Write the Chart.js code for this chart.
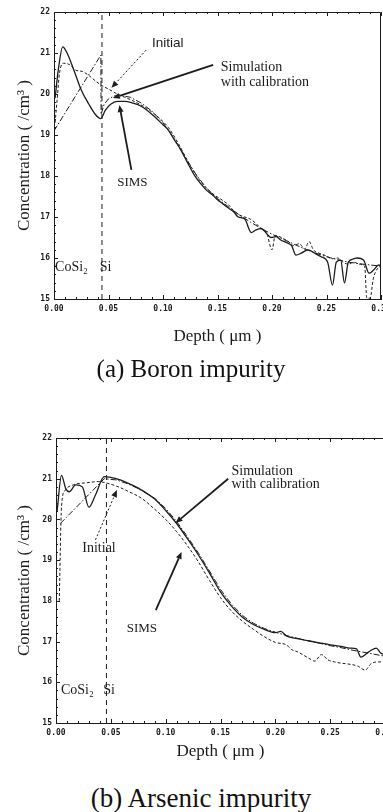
<!DOCTYPE html>
<html>
<head>
<meta charset="utf-8">
<script src="https://cdn.jsdelivr.net/npm/chart.js@4.4.1/dist/chart.umd.min.js"></script>
<style>
  html, body { margin: 0; padding: 0; background: #fff; width: 383px; height: 812px; overflow: hidden; position: relative; }
  canvas { position: absolute; left: 0; }
  .cap { position: absolute; font-family: "Liberation Serif", serif; color: #111; white-space: nowrap; transform: translate(-50%, -50%); }
</style>
</head>
<body>
<canvas id="boron" width="400" height="360" style="top:0;width:400px;height:360px"></canvas>
<canvas id="arsenic" width="400" height="372" style="top:400px;width:400px;height:372px"></canvas>
<div class="cap" style="left:191px;top:369px;font-size:25px">(a) Boron impurity</div>
<div class="cap" style="left:201px;top:798px;font-size:27px">(b) Arsenic impurity</div>
<script>
// axes
const depthTicks = [0, 0.05, 0.10, 0.15, 0.20, 0.25, 0.30];
const depthTickLabels = ['0.00', '0.05', '0.10', '0.15', '0.20', '0.25', '0.30'];
const concTicks = [15, 16, 17, 18, 19, 20, 21, 22];
const concTickLabels = ['15', '16', '17', '18', '19', '20', '21', '22'];

// CoSi2 / Si interface depth (um)
const ifaceA = 0.044;
const ifaceB = 0.046;

// (a) boron - SIMS
const depthA_sims = [0.001,0.004,0.008,0.012,0.018,0.025,0.032,0.038,0.043,0.047,0.052,0.058,0.065,0.072,0.080,0.090,0.100,0.105,0.110,0.115,0.120,0.125,0.130,0.135,0.140,0.145,0.150,0.155,0.160,0.165,0.169,0.175,0.181,0.185,0.190,0.195,0.199,0.204,0.208,0.213,0.218,0.222,0.227,0.233,0.239,0.245,0.251,0.2555,0.259,0.263,0.2665,0.270,0.275,0.278,0.284,0.289,0.293,0.298,0.300];
const concA_sims  = [19.9,20.6,21.15,21.0,20.6,20.1,19.75,19.5,19.4,19.6,19.75,19.82,19.82,19.78,19.7,19.5,19.25,19.12,18.9,18.7,18.45,18.2,17.97,17.8,17.65,17.55,17.42,17.32,17.22,17.12,17.0,16.95,16.62,16.68,16.72,16.6,16.5,16.52,16.44,16.38,16.3,16.07,16.12,16.2,16.12,16.03,15.9,15.34,15.9,15.95,15.39,15.9,15.98,16.0,15.95,15.63,15.7,15.83,15.8];
// (a) boron - initial
const depthA_init = [0.001,0.003,0.005,0.009,0.014,0.020,0.026,0.032,0.038,0.043,0.050,0.058,0.065,0.075,0.085,0.095,0.105,0.115,0.125,0.135,0.145,0.155,0.160,0.165,0.170,0.175,0.180,0.185,0.190,0.195,0.200,0.203,0.210,0.215,0.220,0.225,0.230,0.234,0.238,0.245,0.250,0.255,0.260,0.265,0.270,0.275,0.280,0.285,0.287,0.290,0.293,0.297,0.300];
const concA_init  = [19.3,19.9,20.5,20.75,20.72,20.58,20.55,20.45,20.32,20.22,20.12,20.0,19.92,19.8,19.65,19.45,19.18,18.75,18.25,17.85,17.58,17.4,17.3,17.15,17.05,17.0,16.95,16.85,16.72,16.62,16.2,16.55,16.48,16.4,16.3,16.35,16.22,16.4,16.2,16.1,16.05,15.98,16.0,15.9,15.85,15.9,15.85,15.8,15.02,15.02,15.5,15.75,15.8];
// (a) boron - simulation with calibration
const depthA_sim = [0.000,0.043,0.0432,0.046,0.050,0.055,0.060,0.070,0.080,0.090,0.100,0.110,0.120,0.130,0.140,0.150,0.160,0.170,0.180,0.190,0.200,0.210,0.220,0.230,0.240,0.250,0.260,0.270,0.280,0.290,0.300];
const concA_sim  = [19.1,20.95,19.5,19.75,19.88,19.95,19.97,19.92,19.78,19.58,19.3,18.92,18.48,18.05,17.7,17.45,17.25,17.05,16.88,16.72,16.58,16.46,16.34,16.22,16.12,16.03,15.96,15.9,15.86,15.83,15.8];

// (b) arsenic - SIMS
const depthB_sims = [0.001,0.005,0.009,0.012,0.018,0.024,0.030,0.036,0.044,0.055,0.065,0.075,0.090,0.100,0.110,0.120,0.130,0.140,0.150,0.160,0.170,0.180,0.190,0.200,0.205,0.210,0.220,0.230,0.240,0.250,0.260,0.268,0.274,0.278,0.283,0.287,0.292,0.296,0.300];
const concB_sims  = [20.2,21.08,20.75,20.68,20.85,20.8,20.3,20.6,21.05,21.0,20.9,20.77,20.5,20.22,19.9,19.52,19.12,18.68,18.22,17.87,17.6,17.42,17.3,17.22,17.25,17.14,17.07,17.02,16.97,16.92,16.88,16.84,16.82,16.62,16.7,16.78,16.84,16.72,16.68];
// (b) arsenic - initial
const depthB_init = [0.003,0.005,0.008,0.016,0.028,0.039,0.045,0.055,0.065,0.078,0.090,0.100,0.110,0.120,0.130,0.140,0.150,0.160,0.170,0.180,0.190,0.200,0.210,0.215,0.220,0.230,0.236,0.242,0.248,0.254,0.260,0.266,0.275,0.282,0.287,0.293,0.300];
const concB_init  = [18.0,20.3,20.7,20.85,20.9,20.93,20.9,20.82,20.7,20.52,20.25,20.0,19.7,19.35,18.95,18.5,18.08,17.75,17.5,17.3,17.12,16.98,16.92,16.8,16.75,16.6,16.52,16.68,16.55,16.5,16.47,16.45,16.4,16.3,16.45,16.5,16.5];
// (b) arsenic - simulation with calibration
const depthB_sim = [0.004,0.044,0.055,0.065,0.075,0.090,0.100,0.110,0.120,0.130,0.140,0.150,0.160,0.170,0.180,0.190,0.200,0.210,0.220,0.230,0.240,0.250,0.260,0.270,0.280,0.290,0.300];
const concB_sim  = [19.9,21.0,20.97,20.88,20.76,20.52,20.27,19.95,19.57,19.17,18.73,18.28,17.92,17.64,17.45,17.32,17.23,17.15,17.08,17.02,16.96,16.9,16.85,16.79,16.74,16.69,16.64];

const INK = '#1c1c1c';
const tickFont = { family: 'DejaVu Sans Mono', size: 8, weight: 'bold' };
const titleFont = { family: 'Liberation Serif', size: 17, lineHeight: 1 };
const serif14 = '14px "Liberation Serif"';
const serif13 = '13px "Liberation Serif"';

function pts(xs, ys) {
    return xs.map((x, i) => ({ x: x, y: ys[i] }));
}

function curve(label, xs, ys, dash, width, smooth) {
    return {
        label: label,
        data: pts(xs, ys),
        borderColor: INK,
        borderWidth: width,
        borderDash: dash,
        pointRadius: 0,
        fill: false,
        tension: 0,
        cubicInterpolationMode: smooth ? 'monotone' : 'default',
    };
}

function iface(depth) {
    return curve('interface', [depth, depth], [concTicks[0], concTicks[concTicks.length - 1]], [5, 4], 1, false);
}

// text + arrows, placed in data units
const notes = {
    boron: {
        labels: [
            { text: 'Initial', at: [0.090, 21.24], font: '13.5px "Liberation Sans"' },
            { text: 'Simulation', at: [0.153, 20.66], font: serif14 },
            { text: 'with calibration', at: [0.153, 20.29], font: serif14 },
            { text: 'SIMS', at: [0.058, 17.83], font: serif13 },
            { text: 'CoSi₂', at: [0.001, 15.78], font: serif14 },
            { text: 'Si', at: [0.042, 15.78], font: serif14 },
        ],
        arrows: [
            { from: [0.0845, 21.07], to: [0.0527, 20.15], width: 1, dash: [2, 2] },
            { from: [0.146, 20.71], to: [0.054, 19.9], width: 1.8 },
            { from: [0.071, 18.15], to: [0.060, 19.73], width: 1.8 },
        ],
    },
    arsenic: {
        labels: [
            { text: 'Simulation', at: [0.160, 21.18], font: serif14 },
            { text: 'with calibration', at: [0.160, 20.87], font: serif14 },
            { text: 'Initial', at: [0.024, 19.3], font: serif14 },
            { text: 'SIMS', at: [0.0645, 17.33], font: serif13 },
            { text: 'CoSi₂', at: [0.0045, 15.8], font: serif14 },
            { text: 'Si', at: [0.043, 15.8], font: serif14 },
        ],
        arrows: [
            { from: [0.157, 21.0], to: [0.109, 19.91], width: 1.8 },
            { from: [0.036, 19.5], to: [0.0555, 20.72], width: 1, dash: [2, 2] },
            { from: [0.091, 17.77], to: [0.1145, 19.2], width: 1.8 },
        ],
    },
};

const notesPlugin = {
    id: 'notes',
    afterDatasetsDraw(chart) {
        const n = notes[chart.canvas.id];
        const { ctx, scales: { x, y } } = chart;
        ctx.save();
        ctx.fillStyle = INK;
        ctx.strokeStyle = INK;
        n.arrows.forEach(ar => {
            const x0 = x.getPixelForValue(ar.from[0]), y0 = y.getPixelForValue(ar.from[1]);
            const x1 = x.getPixelForValue(ar.to[0]), y1 = y.getPixelForValue(ar.to[1]);
            const a = Math.atan2(y1 - y0, x1 - x0);
            const hx = x1 - 7 * Math.cos(a), hy = y1 - 7 * Math.sin(a);
            ctx.lineWidth = ar.width;
            ctx.setLineDash(ar.dash || []);
            ctx.beginPath();
            ctx.moveTo(x0, y0);
            ctx.lineTo(hx, hy);
            ctx.stroke();
            ctx.setLineDash([]);
            ctx.beginPath();
            ctx.moveTo(x1, y1);
            ctx.lineTo(hx + 3 * Math.sin(a), hy - 3 * Math.cos(a));
            ctx.lineTo(hx - 3 * Math.sin(a), hy + 3 * Math.cos(a));
            ctx.closePath();
            ctx.fill();
        });
        ctx.textAlign = 'left';
        ctx.textBaseline = 'middle';
        n.labels.forEach(lb => {
            ctx.font = lb.font;
            ctx.fillText(lb.text, x.getPixelForValue(lb.at[0]), y.getPixelForValue(lb.at[1]));
        });
        ctx.restore();
    }
};

// top/right border and the small inward ticks
const frame = {
    id: 'frame',
    afterDatasetsDraw(chart) {
        const { ctx, chartArea: a, scales } = chart;
        ctx.save();
        ctx.strokeStyle = INK;
        ctx.lineWidth = 1;
        ctx.beginPath();
        ctx.moveTo(a.left, a.top + 0.5);
        ctx.lineTo(a.right - 0.5, a.top + 0.5);
        ctx.lineTo(a.right - 0.5, a.bottom);
        const tick = (s, v, len) => {
            const p = Math.round(s.getPixelForValue(v)) + 0.5;
            if (s.axis === 'x') {
                ctx.moveTo(p, a.bottom); ctx.lineTo(p, a.bottom - len);
                ctx.moveTo(p, a.top); ctx.lineTo(p, a.top + len);
            } else {
                ctx.moveTo(a.left, p); ctx.lineTo(a.left + len, p);
            }
        };
        [scales.x, scales.y].forEach(s => {
            s.ticks.forEach((t, i) => {
                tick(s, t.value, 4);
                const nx = s.ticks[i + 1];
                if (nx) for (let k = 1; k < 5; k++) tick(s, t.value + (nx.value - t.value) * k / 5, 2);
            });
        });
        ctx.stroke();
        ctx.restore();
    }
};

function makeChart(id, sets, box) {
    return new Chart(document.getElementById(id), {
        type: 'line',
        data: { datasets: sets },
        options: {
            responsive: false,
            animation: false,
            layout: { padding: { top: box.top, right: box.right, left: 0, bottom: 0 } },
            plugins: { legend: { display: false }, tooltip: { enabled: false } },
            scales: {
                x: {
                    type: 'linear', min: 0, max: 0.30,
                    afterBuildTicks: s => { s.ticks = depthTicks.map(v => ({ value: v })); },
                    afterFit: s => { s.height = box.xAxis; },
                    grid: { display: false, drawTicks: false },
                    border: { display: true, color: INK, width: 1 },
                    ticks: { callback: (v, i) => depthTickLabels[i], font: tickFont, color: INK, padding: 5, maxRotation: 0, autoSkip: false },
                    title: { display: true, text: 'Depth ( μm )', font: titleFont, color: INK, padding: { top: 0, bottom: box.xTitlePad } },
                },
                y: {
                    type: 'linear', min: 15, max: 22,
                    afterBuildTicks: s => { s.ticks = concTicks.map(v => ({ value: v })); },
                    afterFit: s => { s.width = box.left; },
                    grid: { display: false, drawTicks: false },
                    border: { display: true, color: INK, width: 1 },
                    ticks: { callback: (v, i) => concTickLabels[i], font: tickFont, color: INK, padding: 4, autoSkip: false },
                    title: { display: true, text: 'Concentration ( /cm³ )', font: titleFont, color: INK, padding: { top: 16.5, bottom: 0 } },
                },
            },
        },
        plugins: [frame, notesPlugin],
    });
}

makeChart('boron', [
    iface(ifaceA),
    curve('SIMS', depthA_sims, concA_sims, [], 1.3, true),
    curve('Initial', depthA_init, concA_init, [3, 2], 1, true),
    curve('Simulation with calibration', depthA_sim, concA_sim, [6, 2, 1.5, 2], 1, false),
], { top: 12, right: 19, left: 54, xAxis: 61, xTitlePad: 14.5 });

makeChart('arsenic', [
    iface(ifaceB),
    curve('SIMS', depthB_sims, concB_sims, [], 1.3, true),
    curve('Initial', depthB_init, concB_init, [3, 2], 1, true),
    curve('Simulation with calibration', depthB_sim, concB_sim, [6, 2, 1.5, 2], 1, false),
], { top: 38, right: 15, left: 56, xAxis: 49, xTitlePad: 11.5 });
</script>
</body>
</html>
